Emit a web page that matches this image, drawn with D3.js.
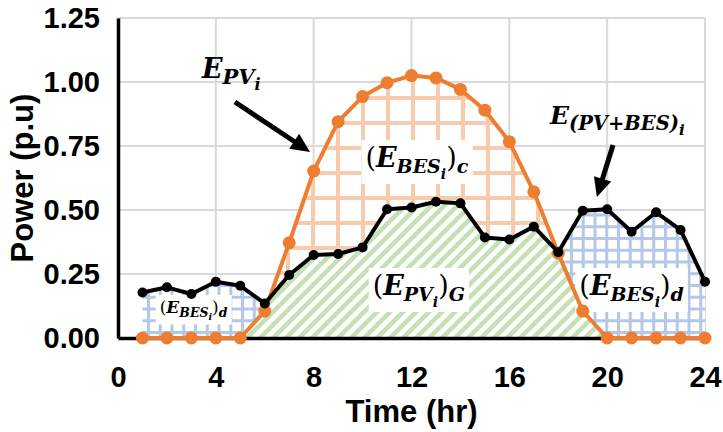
<!DOCTYPE html>
<html>
<head>
<meta charset="utf-8">
<script src="https://cdn.jsdelivr.net/npm/d3@7"></script>
<style>
    body { margin: 0; background: #fff; }
    svg { display: block; }
</style>
</head>
<body>
<svg id="canvas" width="723" height="432"></svg>
<script>
// data
var hours = [1, 2, 3, 4, 5, 6, 7, 8, 9, 10, 11, 12, 13, 14, 15, 16, 17, 18, 19, 20, 21, 22, 23, 24];
var pvPower = [0, 0, 0, 0, 0, 0.105, 0.372, 0.652, 0.845, 0.943, 0.997, 1.025, 1.016, 0.971, 0.89, 0.767, 0.571, 0.331, 0.105, 0, 0, 0, 0, 0];
var netPower = [0.178, 0.198, 0.172, 0.22, 0.204, 0.135, 0.246, 0.324, 0.328, 0.354, 0.503, 0.51, 0.532, 0.526, 0.393, 0.385, 0.435, 0.335, 0.497, 0.503, 0.415, 0.491, 0.422, 0.22];
var xTicks = [0, 4, 8, 12, 16, 20, 24];
var yTicks = [0, 0.25, 0.5, 0.75, 1, 1.25];

// annotation anchors, in data units [hour, p.u]
var labelPv = [3.43, 1.016];
var labelNet = [17.66, 0.836];
var labelCharge = [12.22, 0.668];
var labelGrid = [12.3, 0.168];
var labelDisLeft = [3.09, 0.098];
var labelDisRight = [21.0, 0.168];
var arrowPv = [[4.78, 0.922], [7.85, 0.727]];
var arrowNet = [[20.24, 0.754], [19.58, 0.551]];

var ORANGE = '#ED7D31';
var SERIF = "'DejaVu Serif', serif";

var svg = d3.select(document.getElementById('canvas'));
var x = d3.scaleLinear().domain([0, 24]).range([118, 705]);
var y = d3.scaleLinear().domain([0, 1.25]).range([338, 18]);

// patterns
var defs = svg.append('defs');
var pOrange = defs.append('pattern').attr('id', 'orangeGrid')
    .attr('patternUnits', 'userSpaceOnUse')
    .attr('x', 11).attr('y', 21).attr('width', 25).attr('height', 25);
pOrange.append('rect').attr('width', 25).attr('height', 25).attr('fill', '#fff');
pOrange.append('rect').attr('width', 4).attr('height', 25).attr('fill', '#F8CBAD');
pOrange.append('rect').attr('width', 25).attr('height', 4).attr('fill', '#F8CBAD');

var pBlue = defs.append('pattern').attr('id', 'blueGrid')
    .attr('patternUnits', 'userSpaceOnUse')
    .attr('x', 6).attr('y', 2).attr('width', 11.75).attr('height', 11.75);
pBlue.append('rect').attr('width', 11.75).attr('height', 11.75).attr('fill', '#fff');
pBlue.append('rect').attr('width', 3).attr('height', 11.75).attr('fill', '#B4C7E7');
pBlue.append('rect').attr('width', 11.75).attr('height', 3).attr('fill', '#B4C7E7');

var pGreen = defs.append('pattern').attr('id', 'greenStripes')
    .attr('patternUnits', 'userSpaceOnUse')
    .attr('width', 13).attr('height', 13);
pGreen.append('rect').attr('width', 13).attr('height', 13).attr('fill', '#fff');
pGreen.append('path')
    .attr('d', 'M-3,3L3,-3M0,13L13,0M10,16L16,10')
    .attr('stroke', '#C5E0B4').attr('stroke-width', 4.5);

// gridlines
svg.append('g').selectAll('line.h').data(yTicks).enter().append('line')
    .attr('x1', x(0)).attr('x2', x(24))
    .attr('y1', function(d) { return y(d); })
    .attr('y2', function(d) { return y(d); })
    .attr('stroke', '#d9d9d9').attr('stroke-width', 2);
svg.append('g').selectAll('line.v').data(xTicks).enter().append('line')
    .attr('y1', y(0)).attr('y2', y(1.25))
    .attr('x1', function(d) { return x(d); })
    .attr('x2', function(d) { return x(d); })
    .attr('stroke', '#d9d9d9').attr('stroke-width', 2);

// merge the two series, adding the points where they cross
var merged = [];
hours.forEach(function(h, i) {
    merged.push({ h: h, pv: pvPower[i], net: netPower[i] });
    if (i < hours.length - 1) {
        var d0 = pvPower[i] - netPower[i];
        var d1 = pvPower[i + 1] - netPower[i + 1];
        if (d0 * d1 < 0) {
            var t = d0 / (d0 - d1);
            var v = pvPower[i] + t * (pvPower[i + 1] - pvPower[i]);
            merged.push({ h: h + t, pv: v, net: v });
        }
    }
});

var areaGreen = d3.area()
    .x(function(d) { return x(d.h); })
    .y0(y(0))
    .y1(function(d) { return y(Math.min(d.pv, d.net)); });
var areaCharge = d3.area()
    .x(function(d) { return x(d.h); })
    .y0(function(d) { return y(d.net); })
    .y1(function(d) { return y(Math.max(d.pv, d.net)); });
var areaDischarge = d3.area()
    .x(function(d) { return x(d.h); })
    .y0(function(d) { return y(d.pv); })
    .y1(function(d) { return y(Math.max(d.pv, d.net)); });

svg.append('path').datum(merged).attr('d', areaGreen).attr('fill', 'url(#greenStripes)');
svg.append('path').datum(merged).attr('d', areaCharge).attr('fill', 'url(#orangeGrid)');
svg.append('path').datum(merged).attr('d', areaDischarge).attr('fill', 'url(#blueGrid)');

// math style label: pieces are [text, level], level 'p' = upright bracket
function mathLabel(pos, sizes, pieces, anchor, boxed) {
    var g = svg.append('g');
    var text = g.append('text')
        .attr('x', x(pos[0])).attr('y', y(pos[1]))
        .attr('text-anchor', anchor)
        .attr('font-family', SERIF)
        .attr('fill', '#000');
    var shifts = { p: 0, 0: 0, 1: 0.24 * sizes[0], 2: 0.44 * sizes[0] };
    var current = 0;
    pieces.forEach(function(piece) {
        var lvl = piece[1];
        var size = lvl === 'p' ? sizes[0] : sizes[lvl];
        text.append('tspan')
            .attr('dy', shifts[lvl] - current)
            .attr('font-size', size + 'px')
            .attr('font-style', lvl === 'p' ? 'normal' : 'italic')
            .attr('font-weight', lvl === 'p' ? 'normal' : 'bold')
            .text(piece[0]);
        current = shifts[lvl];
    });
    if (boxed) {
        var bb = text.node().getBBox();
        g.insert('rect', 'text')
            .attr('x', bb.x - 4).attr('y', bb.y - 2)
            .attr('width', bb.width + 8).attr('height', bb.height + 4)
            .attr('fill', '#fff');
    }
    return g;
}

mathLabel(labelCharge, [27, 19, 14],
    [['(', 'p'], ['E', 0], ['BES', 1], ['i', 2], [')', 'p'], ['c', 1]], 'middle', true);
mathLabel(labelGrid, [27, 19, 14],
    [['(', 'p'], ['E', 0], ['PV', 1], ['i', 2], [')', 'p'], ['G', 1]], 'middle', true);
mathLabel(labelDisLeft, [17, 12.5, 9.5],
    [['(', 'p'], ['E', 0], ['BES', 1], ['i', 2], [')', 'p'], ['d', 1]], 'middle', true);
mathLabel(labelDisRight, [27, 19, 14],
    [['(', 'p'], ['E', 0], ['BES', 1], ['i', 2], [')', 'p'], ['d', 1]], 'middle', true);

// axes
var yAxis = d3.axisLeft(y).tickValues(yTicks).tickFormat(d3.format('.2f'))
    .tickSize(0).tickPadding(18);
var xAxis = d3.axisBottom(x).tickValues(xTicks).tickFormat(d3.format('d'))
    .tickSize(0).tickPadding(28);
var gy = svg.append('g').attr('transform', 'translate(' + x(0) + ',0)').call(yAxis);
var gx = svg.append('g').attr('transform', 'translate(0,' + y(0) + ')').call(xAxis);
[gx, gy].forEach(function(g) {
    g.select('.domain').attr('stroke', '#000').attr('stroke-width', 3.5);
    g.selectAll('text')
        .attr('font-family', "'Liberation Sans', Arial, sans-serif")
        .attr('font-weight', 'bold')
        .attr('font-size', '29px')
        .attr('fill', '#000');
});
gy.selectAll('text').attr('dy', '0.33em');

svg.append('text')
    .attr('x', (x(0) + x(24)) / 2).attr('y', 422)
    .attr('text-anchor', 'middle')
    .attr('font-family', "'Liberation Sans', Arial, sans-serif")
    .attr('font-weight', 'bold').attr('font-size', '31px')
    .text('Time (hr)');
svg.append('text')
    .attr('transform', 'translate(33,' + (y(0) + y(1.25)) / 2 + ') rotate(-90)')
    .attr('text-anchor', 'middle')
    .attr('font-family', "'Liberation Sans', Arial, sans-serif")
    .attr('font-weight', 'bold').attr('font-size', '31px')
    .text('Power (p.u)');

// series lines
var line = function(values) {
    return d3.line()
        .x(function(d, i) { return x(hours[i]); })
        .y(function(d) { return y(d); })(values);
};
svg.append('path').attr('d', line(pvPower))
    .attr('fill', 'none').attr('stroke', ORANGE).attr('stroke-width', 4)
    .attr('stroke-linejoin', 'round');
svg.append('g').selectAll('circle').data(pvPower).enter().append('circle')
    .attr('cx', function(d, i) { return x(hours[i]); })
    .attr('cy', function(d) { return y(d); })
    .attr('r', 6.5).attr('fill', ORANGE);

svg.append('path').attr('d', line(netPower))
    .attr('fill', 'none').attr('stroke', '#000').attr('stroke-width', 4)
    .attr('stroke-linejoin', 'round');
svg.append('g').selectAll('circle').data(netPower).enter().append('circle')
    .attr('cx', function(d, i) { return x(hours[i]); })
    .attr('cy', function(d) { return y(d); })
    .attr('r', 5).attr('fill', '#000');

// arrows
function arrow(pts) {
    var x0 = x(pts[0][0]), y0 = y(pts[0][1]);
    var x1 = x(pts[1][0]), y1 = y(pts[1][1]);
    var len = Math.sqrt((x1 - x0) * (x1 - x0) + (y1 - y0) * (y1 - y0));
    var ux = (x1 - x0) / len, uy = (y1 - y0) / len;
    var headLen = 19, headHalf = 9;
    var bx = x1 - ux * headLen, by = y1 - uy * headLen;
    svg.append('line')
        .attr('x1', x0).attr('y1', y0)
        .attr('x2', bx + ux * 2).attr('y2', by + uy * 2)
        .attr('stroke', '#000').attr('stroke-width', 5);
    svg.append('path')
        .attr('d', 'M' + x1 + ',' + y1 +
            'L' + (bx - uy * headHalf) + ',' + (by + ux * headHalf) +
            'L' + (bx + uy * headHalf) + ',' + (by - ux * headHalf) + 'Z')
        .attr('fill', '#000');
}
arrow(arrowPv);
arrow(arrowNet);

mathLabel(labelPv, [27, 21, 16], [['E', 0], ['PV', 1], ['i', 2]], 'start', false);
mathLabel(labelNet, [25, 19.5, 15], [['E', 0], ['(PV+BES)', 1], ['i', 2]], 'start', false);
</script>
</body>
</html>
